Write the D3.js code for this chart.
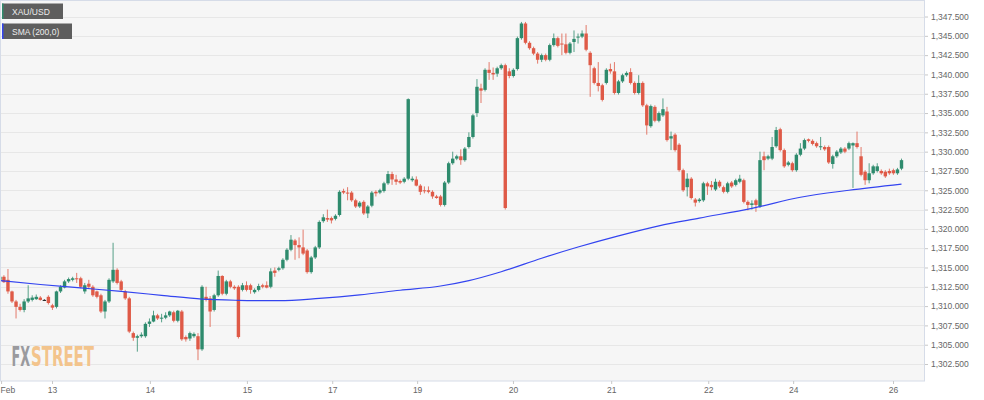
<!DOCTYPE html>
<html><head><meta charset="utf-8">
<script src="https://cdn.jsdelivr.net/npm/d3@7"></script>
<style>
html,body{margin:0;padding:0;background:#fff;}
svg{display:block;font-family:"Liberation Sans",Arial,Helvetica,sans-serif;}
</style>
</head><body>
<svg id="chart" width="984" height="400"></svg>
<script>
// XAU/USD hourly candles: [open, high, low, close]
const candles = [
[1313.4,1314.2,1313.1,1313.8],[1313.8,1314.0,1313.0,1313.1],[1313.4,1314.8,1311.6,1311.9],[1311.9,1312.0,1310.4,1310.6],
[1310.6,1310.8,1308.4,1309.9],[1309.9,1310.3,1309.3,1309.5],[1309.5,1310.9,1309.2,1310.6],[1310.6,1312.7,1310.4,1311.0],
[1310.8,1311.4,1310.6,1311.1],[1310.9,1311.5,1310.8,1311.2],[1311.1,1311.3,1310.7,1310.8],[1310.8,1310.9,1310.7,1310.8],
[1311.2,1311.4,1310.2,1310.4],[1310.1,1310.3,1309.5,1309.8],[1309.9,1312.0,1309.7,1311.9],[1311.9,1312.7,1311.7,1312.5],
[1312.4,1313.4,1312.3,1313.2],[1313.2,1313.7,1313.0,1313.5],[1313.4,1313.8,1313.2,1313.6],[1313.6,1314.3,1313.0,1313.5],
[1313.6,1313.8,1312.3,1312.5],[1311.9,1313.0,1311.6,1312.7],[1312.9,1313.4,1312.3,1312.5],[1312.5,1312.7,1311.2,1311.4],
[1311.9,1312.0,1311.0,1311.2],[1311.4,1311.6,1309.1,1309.3],[1309.3,1310.8,1308.4,1310.6],[1310.6,1313.6,1310.4,1313.4],
[1313.2,1318.2,1313.0,1314.7],[1314.7,1314.9,1312.8,1313.0],[1313.2,1313.4,1311.9,1312.1],[1311.9,1312.1,1310.8,1311.0],
[1311.0,1311.2,1306.5,1306.7],[1306.5,1306.7,1305.5,1305.9],[1305.9,1306.3,1304.1,1306.1],[1306.1,1306.6,1305.9,1306.3],
[1306.1,1307.9,1305.9,1307.7],[1307.7,1308.4,1307.3,1308.0],[1308.0,1309.4,1307.9,1308.8],[1308.8,1309.0,1308.2,1308.4],
[1308.4,1309.0,1307.9,1308.5],[1308.5,1309.2,1308.3,1308.8],[1308.8,1309.4,1308.6,1309.3],[1309.2,1309.4,1307.9,1308.1],
[1308.1,1309.5,1307.9,1309.4],[1309.3,1309.5,1305.5,1305.7],[1306.0,1306.2,1305.4,1305.7],[1305.8,1306.7,1305.5,1306.5],
[1306.1,1306.6,1305.9,1306.4],[1306.1,1306.5,1303.0,1304.4],[1304.4,1312.7,1304.2,1312.5],[1311.2,1312.5,1310.6,1310.8],
[1311.0,1311.3,1307.3,1309.3],[1309.5,1311.6,1309.3,1311.4],[1311.4,1314.6,1311.2,1313.9],[1313.9,1314.0,1311.4,1311.6],
[1311.6,1313.4,1311.4,1313.2],[1313.2,1313.4,1312.3,1312.5],[1312.5,1312.7,1312.1,1312.3],[1312.5,1312.7,1305.8,1306.0],
[1312.1,1313.0,1311.9,1312.7],[1312.7,1313.2,1311.9,1312.1],[1312.7,1312.9,1311.6,1312.1],[1311.8,1312.3,1311.6,1312.1],
[1312.1,1312.9,1311.9,1312.6],[1312.7,1312.9,1312.3,1312.5],[1312.7,1313.2,1312.3,1312.4],[1312.5,1314.9,1312.3,1314.5],
[1314.6,1315.0,1313.8,1314.3],[1314.7,1315.1,1314.5,1314.9],[1314.9,1316.2,1314.7,1316.0],[1316.0,1317.5,1315.8,1317.3],
[1317.3,1319.2,1317.1,1318.6],[1318.5,1318.7,1316.0,1317.9],[1317.9,1318.9,1316.2,1317.6],[1317.6,1319.9,1316.6,1316.8],
[1317.2,1317.4,1314.2,1314.4],[1314.4,1316.5,1314.2,1316.3],[1316.3,1317.8,1316.1,1317.6],[1317.6,1321.1,1317.4,1320.9],
[1321.0,1321.9,1320.8,1321.5],[1321.4,1322.5,1320.9,1321.2],[1321.4,1321.6,1320.7,1321.1],[1321.3,1321.9,1321.1,1321.7],
[1321.8,1325.0,1321.6,1324.8],[1324.9,1325.2,1324.5,1324.7],[1324.7,1325.4,1323.7,1324.6],[1324.7,1324.9,1323.5,1323.7],
[1323.7,1323.9,1322.7,1322.9],[1322.9,1323.6,1322.7,1323.4],[1323.5,1323.7,1321.8,1322.0],[1322.0,1323.1,1321.4,1322.9],
[1323.0,1324.9,1322.8,1324.7],[1324.8,1325.0,1324.2,1324.6],[1324.7,1325.2,1324.5,1325.0],[1324.9,1326.1,1324.7,1325.9],
[1325.9,1327.5,1325.7,1327.1],[1327.1,1327.4,1325.7,1326.4],[1326.4,1327.0,1325.7,1326.1],[1326.2,1326.4,1325.8,1326.0],
[1326.1,1326.7,1325.9,1326.5],[1326.5,1336.9,1326.3,1336.8],[1326.3,1326.8,1326.1,1326.5],[1326.4,1326.8,1325.5,1325.6],
[1325.6,1325.8,1324.4,1324.8],[1325.0,1325.5,1324.6,1324.9],[1325.0,1325.5,1324.6,1324.8],[1324.8,1325.0,1323.9,1324.2],
[1324.2,1324.4,1323.9,1324.0],[1324.2,1324.4,1322.9,1323.1],[1323.1,1326.2,1322.9,1326.0],[1326.0,1328.7,1325.8,1328.5],
[1328.5,1330.0,1328.3,1329.1],[1329.1,1329.6,1328.9,1329.4],[1329.4,1330.3,1328.3,1328.9],[1328.9,1330.6,1328.7,1330.4],
[1330.6,1332.5,1330.4,1331.9],[1331.9,1334.9,1331.7,1334.7],[1335.0,1339.4,1334.5,1338.4],[1338.2,1338.8,1336.3,1337.9],
[1338.0,1340.8,1337.8,1340.6],[1340.6,1341.6,1339.3,1340.2],[1340.2,1340.9,1339.3,1340.0],[1340.1,1341.0,1339.7,1340.8],
[1340.8,1341.4,1340.6,1341.2],[1341.2,1341.4,1322.5,1322.7],[1340.4,1340.8,1339.5,1339.8],[1339.8,1340.8,1339.6,1340.6],
[1340.7,1344.9,1340.5,1344.7],[1344.7,1346.8,1344.5,1346.6],[1346.6,1346.8,1343.9,1344.1],[1344.1,1344.3,1343.2,1343.4],
[1343.4,1343.6,1342.5,1342.7],[1342.7,1342.9,1341.4,1341.9],[1341.9,1342.7,1341.6,1342.5],[1342.5,1342.7,1341.7,1341.9],
[1341.9,1344.0,1341.7,1343.8],[1343.8,1345.3,1343.6,1344.7],[1344.7,1344.9,1343.5,1343.7],[1344.0,1345.3,1342.5,1343.9],
[1343.9,1345.3,1342.6,1342.8],[1342.8,1344.2,1342.6,1344.0],[1344.2,1345.7,1342.9,1344.6],[1344.8,1345.3,1344.0,1344.9],
[1344.9,1345.7,1344.7,1345.3],[1345.3,1346.4,1343.0,1343.2],[1342.8,1343.0,1337.1,1341.2],[1340.8,1341.0,1338.7,1338.9],
[1338.9,1341.6,1337.8,1338.5],[1338.6,1338.8,1336.5,1336.7],[1338.9,1340.8,1338.7,1340.6],[1340.7,1341.4,1340.1,1340.4],
[1340.4,1341.6,1337.4,1337.6],[1337.6,1339.3,1337.4,1339.1],[1339.1,1340.1,1338.9,1339.9],[1339.9,1340.4,1339.7,1340.2],
[1340.3,1340.8,1338.7,1338.9],[1338.9,1339.1,1337.4,1337.6],[1337.6,1339.9,1337.4,1338.9],[1338.9,1339.1,1335.8,1336.0],
[1336.0,1336.2,1332.2,1333.4],[1333.3,1336.1,1333.1,1335.9],[1335.8,1336.0,1333.8,1334.0],[1334.0,1335.2,1333.8,1335.0],
[1334.7,1336.9,1334.5,1335.5],[1335.2,1335.8,1331.3,1331.5],[1331.7,1332.6,1330.2,1332.0],[1332.2,1332.4,1330.0,1330.2],
[1330.9,1331.1,1327.4,1327.6],[1327.6,1327.8,1324.8,1325.0],[1325.4,1327.2,1324.2,1326.5],[1326.5,1326.7,1323.8,1324.0],
[1323.8,1324.0,1322.9,1323.4],[1323.6,1324.0,1323.4,1323.8],[1323.7,1326.1,1323.5,1325.9],[1325.9,1326.1,1324.4,1325.5],
[1325.7,1326.2,1325.0,1325.4],[1325.1,1326.5,1324.9,1326.1],[1326.1,1326.3,1325.3,1325.5],[1325.4,1325.6,1324.6,1324.8],
[1324.8,1326.1,1324.6,1325.9],[1326.0,1326.2,1325.3,1325.5],[1325.7,1326.5,1325.5,1326.3],[1326.1,1327.0,1325.9,1326.5],
[1326.3,1326.5,1323.3,1323.5],[1323.5,1323.7,1322.4,1323.1],[1323.1,1323.7,1322.5,1323.3],[1323.7,1323.9,1322.2,1323.1],
[1322.9,1330.0,1322.7,1328.9],[1329.4,1330.0,1327.6,1328.9],[1329.1,1329.6,1328.9,1329.4],[1329.1,1331.9,1328.9,1330.6],
[1330.7,1333.2,1330.5,1332.8],[1332.9,1333.1,1330.0,1330.2],[1330.2,1330.4,1327.9,1328.1],[1328.3,1328.8,1328.1,1328.6],
[1328.5,1328.7,1327.4,1327.6],[1327.6,1329.8,1327.4,1329.6],[1329.6,1331.1,1329.4,1330.4],[1330.4,1331.7,1330.2,1331.5],
[1331.6,1331.7,1331.2,1331.4],[1331.4,1331.6,1330.8,1331.0],[1331.1,1331.3,1330.5,1330.7],[1330.6,1331.9,1330.2,1330.7],
[1330.6,1330.8,1330.1,1330.3],[1330.6,1330.8,1328.4,1328.6],[1328.4,1329.6,1327.8,1329.4],[1329.4,1330.2,1329.2,1330.0],
[1329.9,1330.6,1329.7,1330.4],[1330.4,1330.6,1329.8,1330.0],[1330.4,1331.3,1330.2,1331.1],[1330.8,1331.2,1325.3,1331.1],
[1331.1,1332.6,1330.4,1330.6],[1329.4,1330.6,1326.8,1327.0],[1327.4,1327.6,1325.7,1326.3],[1326.3,1328.5,1325.9,1327.2],
[1327.2,1328.3,1327.0,1328.1],[1327.5,1328.5,1327.3,1328.1],[1327.5,1327.7,1327.0,1327.2],[1327.4,1327.6,1326.6,1326.8],
[1327.5,1327.8,1327.0,1327.2],[1327.6,1327.8,1327.0,1327.2],[1327.2,1327.9,1327.0,1327.7],[1327.8,1329.1,1327.6,1328.9]
];

// SMA(200) read at selected candle indices
const smaIdx = [0, 10, 20, 30, 40, 50, 59, 69, 79, 89, 99, 109, 116, 124, 134, 143, 153, 163, 173, 186, 198, 210, 223];
const smaVal = [1313.3, 1312.8, 1312.35, 1311.9, 1311.4, 1310.9, 1310.75, 1310.7, 1311.0, 1311.45, 1312.05, 1312.6, 1313.3, 1314.45, 1316.2, 1317.65, 1319.1, 1320.4, 1321.4, 1322.66, 1324.1, 1325.0, 1325.8];

// Day tick positions (candle index) and labels
const dayTickIdx = [0.3, 12.9, 37.1, 61.1, 82.2, 103.2, 126.9, 151.2, 175.2, 196.2, 220.9];
const dayTickLabels = ["Feb", "13", "14", "15", "17", "19", "20", "21", "22", "24", "26"];

// Price axis ticks
const priceTicks = [1302.5, 1305, 1307.5, 1310, 1312.5, 1315, 1317.5, 1320, 1322.5, 1325, 1327.5, 1330, 1332.5, 1335, 1337.5, 1340, 1342.5, 1345, 1347.5];

const legendItems = ["XAU/USD", "SMA (200,0)"];
const logoParts = ["FX", "STREET"];

// ---- layout ----
const W = 984, H = 400;
const plot = {left: 0, top: 0, right: 925, bottom: 381};
const UP = "#2e8b6d", DOWN = "#df5a47", FLAT = "#222", SMA_COLOR = "#3344f0";

const svg = d3.select("#chart");

const x = d3.scaleLinear().domain([0, candles.length - 1]).range([-0.13, 901.5]);
const y = d3.scaleLinear().domain([1300.3, 1349.64]).range([plot.bottom, plot.top]);

// backgrounds
svg.append("rect").attr("width", W).attr("height", H).attr("fill", "#ffffff");
svg.append("rect").attr("x", plot.left).attr("y", plot.top)
  .attr("width", plot.right - plot.left).attr("height", plot.bottom - plot.top)
  .attr("fill", "#f6f6f6");

svg.append("defs").append("clipPath").attr("id", "clip")
  .append("rect").attr("x", plot.left).attr("y", plot.top)
  .attr("width", plot.right - plot.left).attr("height", plot.bottom - plot.top);

// gridlines
svg.append("g").selectAll("line").data(priceTicks).join("line")
  .attr("x1", plot.left).attr("x2", plot.right)
  .attr("y1", d => Math.round(y(d)) + 0.5).attr("y2", d => Math.round(y(d)) + 0.5)
  .attr("stroke", "#e7e7e7").attr("stroke-width", 1);

// logo: each part squeezed horizontally with a scale transform so its box matches its drawn width
const logoFont = "'Liberation Sans Narrow','DejaVu Sans Condensed','Liberation Sans',sans-serif";
const logoX = [11.5, 31], logoLen = [18.5, 63], logoFill = ["#9a9a9e", "#f3c48c"];
logoParts.forEach((t, i) => {
  const gt = svg.append("g");
  const tx = gt.append("text").attr("x", 0).attr("y", 0)
    .attr("font-family", logoFont).attr("font-weight", "bold").attr("font-size", 27)
    .attr("fill", logoFill[i]).text(t);
  const natural = tx.node().getComputedTextLength() || logoLen[i];
  gt.attr("transform", `translate(${logoX[i]},365.5) scale(${logoLen[i] / natural},1)`);
});

const g = svg.append("g").attr("clip-path", "url(#clip)");

// candles
const cg = g.append("g").selectAll("g").data(candles).join("g");
const col = d => d[3] > d[0] ? UP : (d[3] < d[0] ? DOWN : FLAT);
cg.append("line")
  .attr("x1", (d, i) => x(i)).attr("x2", (d, i) => x(i))
  .attr("y1", d => y(d[1])).attr("y2", d => y(d[2]))
  .attr("stroke", col).attr("stroke-width", 1).attr("stroke-opacity", 0.8);
const bw = 3.4;
cg.append("rect")
  .attr("x", (d, i) => x(i) - bw / 2)
  .attr("width", bw)
  .attr("y", d => y(Math.max(d[0], d[3])))
  .attr("height", d => Math.max(1, Math.abs(y(d[0]) - y(d[3]))))
  .attr("fill", col);

// SMA line
const smaPts = smaIdx.map((d, i) => [d, smaVal[i]]);
g.append("path").datum(smaPts)
  .attr("fill", "none").attr("stroke", SMA_COLOR).attr("stroke-width", 1.2)
  .attr("d", d3.line().x(d => x(d[0])).y(d => y(d[1])).curve(d3.curveMonotoneX));

// plot border
svg.append("rect").attr("x", plot.left + 0.5).attr("y", plot.top + 0.5)
  .attr("width", plot.right - plot.left - 1).attr("height", plot.bottom - plot.top - 0.5)
  .attr("fill", "none").attr("stroke", "#d6dce8").attr("stroke-width", 1);

// right axis
const ya = svg.append("g").attr("transform", `translate(${plot.right},0)`)
  .call(d3.axisRight(y).tickValues(priceTicks).tickFormat(d3.format(",.3f")).tickSize(3).tickPadding(3));
ya.select(".domain").remove();
ya.selectAll(".tick line").attr("stroke", "#c8c8c8");
ya.selectAll(".tick text").attr("fill", "#666").attr("font-size", 8.5)
  .attr("font-family", "'Liberation Sans',Arial,sans-serif");

// bottom axis
const xa = svg.append("g").attr("transform", `translate(0,${plot.bottom})`)
  .call(d3.axisBottom(x).tickValues(dayTickIdx).tickFormat((d, i) => dayTickLabels[i]).tickSize(3).tickPadding(3));
xa.select(".domain").remove();
xa.selectAll(".tick line").attr("stroke", "#c8c8c8");
xa.selectAll(".tick text").attr("fill", "#666").attr("font-size", 8.5)
  .attr("font-family", "'Liberation Sans',Arial,sans-serif")
  .each(function (d, i) {
    if (i === 0) d3.select(this).attr("text-anchor", "start").attr("x", -x(d));
  });

// legend
const lg = svg.append("g");
const legendColors = [UP, SMA_COLOR];
const legendW = [61, 70];
legendItems.forEach((t, i) => {
  const yy = 3.5 + i * 20;
  lg.append("rect").attr("x", 2).attr("y", yy).attr("width", legendW[i]).attr("height", 15.5).attr("fill", "#5e5e5e");
  lg.append("rect").attr("x", 2).attr("y", yy).attr("width", 1.5).attr("height", 15.5).attr("fill", legendColors[i]);
  lg.append("text").attr("x", 12).attr("y", yy + 11).attr("fill", "#ececec")
    .attr("font-size", 8.5).text(t);
});
</script>
</body></html>
